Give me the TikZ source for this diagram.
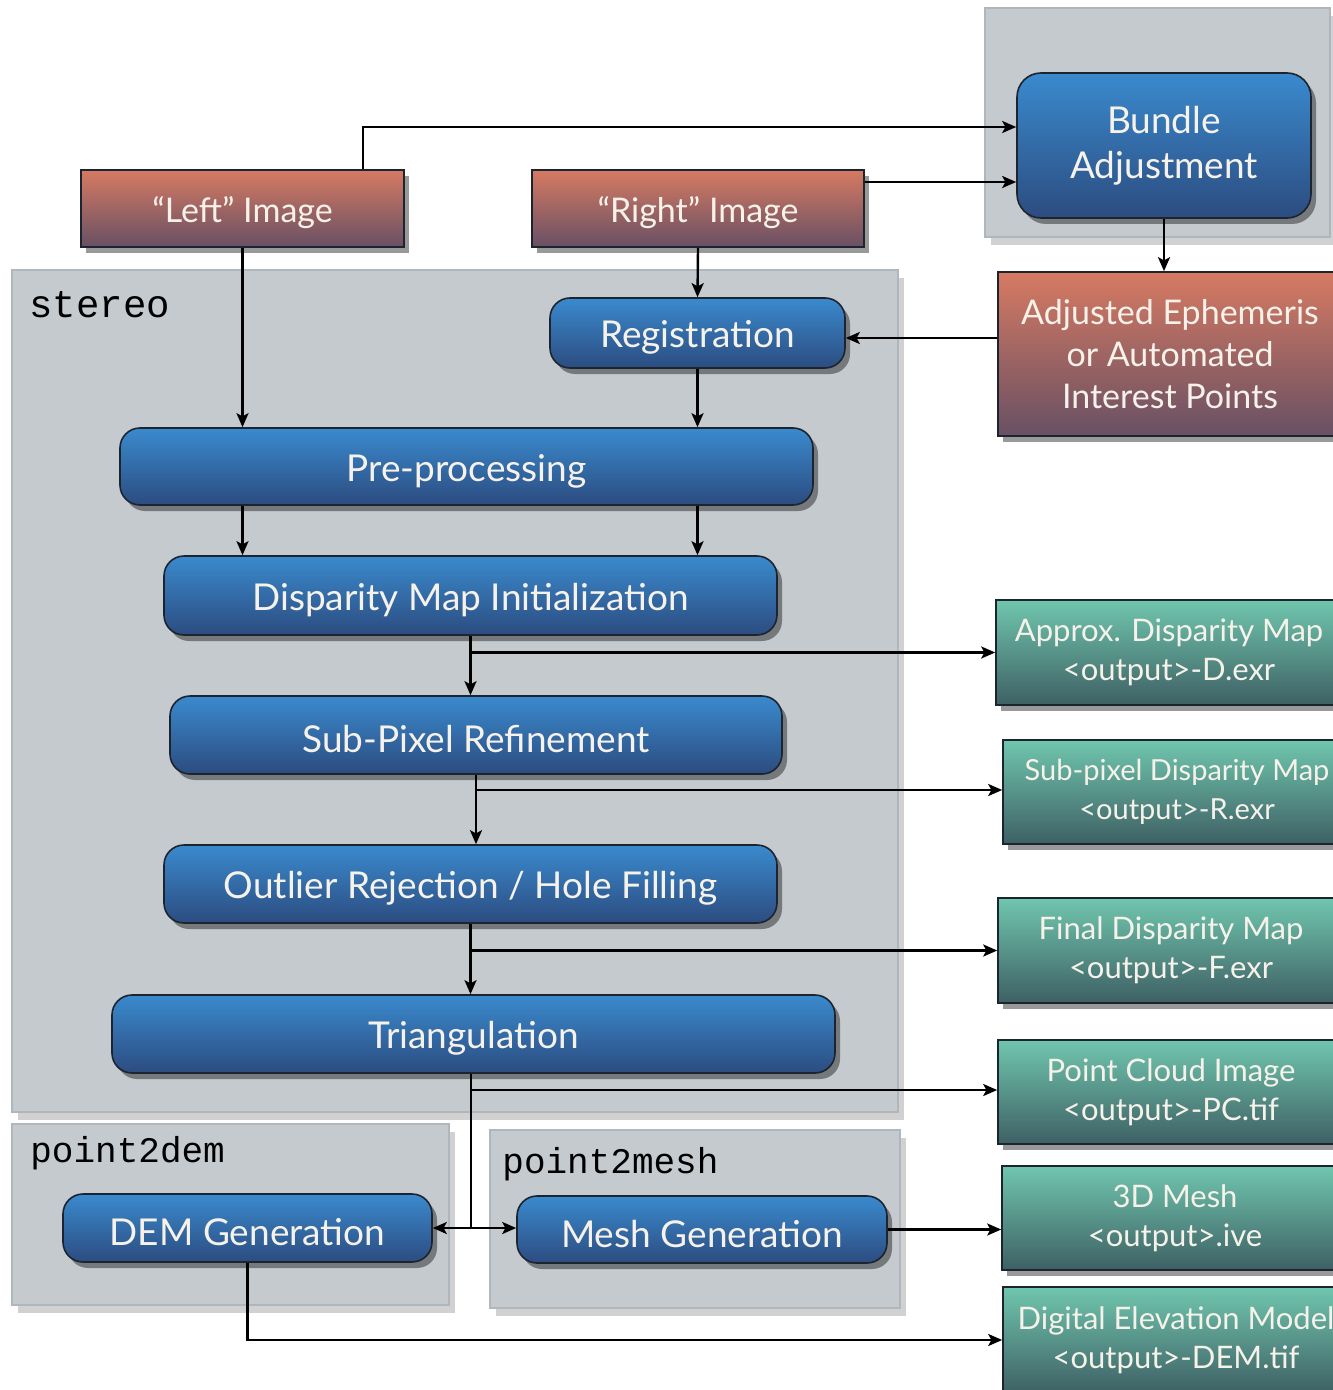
\documentclass[tikz,border=0pt]{standalone}
\usepackage{fontspec}
\setmainfont{Lato}
\setmonofont{Liberation Mono}
\usetikzlibrary{shadows,arrows.meta,calc}

\definecolor{redtop}{RGB}{214,122,98}
\definecolor{redbot}{RGB}{104,80,100}
\definecolor{bluetop}{RGB}{58,138,206}
\definecolor{bluebot}{RGB}{44,76,128}
\definecolor{greentop}{RGB}{112,198,174}
\definecolor{greenbot}{RGB}{62,96,100}
\definecolor{grpfill}{RGB}{196,202,206}
\definecolor{grpline}{RGB}{176,183,188}
\definecolor{edgec}{RGB}{28,36,48}
\definecolor{txtc}{RGB}{246,242,234}

\tikzset{
 boxbase/.style={draw=edgec, line width=0.8pt, text=txtc, align=center, inner sep=2pt,
   execute at begin node={\rule{0pt}{0.98em}},
   drop shadow={shadow xshift=2.5pt, shadow yshift=-3pt, opacity=0.4, fill=black}},
 redbox/.style={boxbase, top color=redtop, bottom color=redbot, font=\fontsize{17}{21}\selectfont},
 bluebox/.style={boxbase, rounded corners=10pt, top color=bluetop, bottom color=bluebot, font=\fontsize{18.5}{22.5}\selectfont},
 greenbox/.style={boxbase, top color=greentop, bottom color=greenbot, font=\fontsize{15.5}{19.5}\selectfont},
 grp/.style={fill=grpfill, draw=grpline, line width=1.2pt, inner sep=0pt,
   drop shadow={shadow xshift=3pt, shadow yshift=-4pt, opacity=0.18, fill=black}},
 grplabel/.style={anchor=base west, inner sep=0pt, font=\ttfamily\fontsize{18}{18}\selectfont, text=black},
 conn/.style={line width=1.2pt, black},
 arr/.style={conn, -{Stealth[length=7pt,width=6pt,inset=1.6pt]}},
 arrboth/.style={conn, {Stealth[length=7pt,width=6pt,inset=1.6pt]}-{Stealth[length=7pt,width=6pt,inset=1.6pt]}},
}

\begin{document}
\begin{tikzpicture}[x=0.5pt,y=-0.5pt]
\useasboundingbox (0,0) rectangle (1332,1390);

% groups
\node[grp, minimum width=172.5pt, minimum height=114.5pt] (gba) at (1157.5,122.5) {};
\node[grp, minimum width=443pt, minimum height=421pt] (gst) at (455,691) {};
\node[grp, minimum width=218.5pt, minimum height=90.5pt] (gdem) at (230.5,1214.5) {};
\node[grp, minimum width=205pt, minimum height=89pt] (gmesh) at (695,1219) {};
\node[grplabel, font=\ttfamily\fontsize{19.5}{19.5}\selectfont] (lst) at (29,318) {stereo};
\node[grplabel] (ldem) at (30,1162) {point2dem};
\node[grplabel] (lmesh) at (502,1173) {point2mesh};

% inputs
\node[redbox, minimum width=161.5pt, minimum height=38.5pt] (left) at (242.5,208.5) {“Left” Image};
\node[redbox, minimum width=166pt, minimum height=38.5pt] (right) at (698,208.5) {“Right” Image};
\node[bluebox, rounded corners=12pt, minimum width=147pt, minimum height=72.5pt] (bundle) at (1164,145.5) {Bundle\\Adjustment};
\node[redbox, minimum width=172pt, minimum height=82pt] (adj) at (1170,354) {Adjusted Ephemeris\\or Automated\\Interest Points};

% stereo
\node[bluebox, minimum width=147.5pt, minimum height=35pt] (reg) at (697.5,333) {Registration};
\node[bluebox, minimum width=346.5pt, minimum height=38.5pt] (pre) at (466.5,466.5) {Pre-processing};
\node[bluebox, minimum width=306.5pt, minimum height=39.5pt] (disp) at (470.5,595.5) {Disparity Map Initialization};
\node[bluebox, minimum width=306pt, minimum height=39pt] (sub) at (476,735) {Sub-Pixel Refinement};
\node[bluebox, minimum width=306.5pt, minimum height=39pt] (out) at (470.5,884) {Outlier Rejection / Hole Filling};
\node[bluebox, minimum width=361.5pt, minimum height=39pt] (tri) at (473.5,1034) {Triangulation};
\node[bluebox, minimum width=184.5pt, minimum height=34pt] (dem) at (247.5,1228) {DEM Generation};
\node[bluebox, minimum width=185pt, minimum height=33.5pt] (mesh) at (702,1229.5) {Mesh Generation};

% outputs
\node[greenbox, minimum width=173pt, minimum height=52.5pt] (approx) at (1169,652.5) {Approx. Disparity Map\\<output>-D.exr};
\node[greenbox, minimum width=174pt, minimum height=52pt, font=\fontsize{14.5}{19.5}\selectfont] (subm) at (1177,792) {Sub-pixel Disparity Map\\<output>-R.exr};
\node[greenbox, minimum width=173pt, minimum height=52.5pt] (fin) at (1171,950.5) {Final Disparity Map\\<output>-F.exr};
\node[greenbox, minimum width=173pt, minimum height=52pt] (pc) at (1171,1092) {Point Cloud Image\\<output>-PC.tif};
\node[greenbox, minimum width=173pt, minimum height=52pt] (m3d) at (1175,1218) {3D Mesh\\<output>.ive};
\node[greenbox, minimum width=173pt, minimum height=53pt] (demtif) at (1176,1340) {Digital Elevation Model\\<output>-DEM.tif};

% connectors
\coordinate (trunk) at ([xshift=-1.25pt]tri.south);
\draw[arr] ([xshift=60.25pt]left.north) |- ([yshift=9.25pt]bundle.west);
\draw[arr] ([yshift=13.25pt]right.east) -- ([yshift=13.25pt]right.east -| bundle.west);
\draw[arr] (bundle.south) -- (bundle.south |- adj.north);
\draw[arr] ([yshift=-2.5pt]reg.east -| adj.west) -- ([yshift=-2.5pt]reg.east);
\draw[arr] (left.south) -- (left.south |- pre.north);
\draw[arr] (right.south) -- (reg.north);
\draw[arr] (reg.south) -- (reg.south |- pre.north);
\draw[arr] (pre.south -| left.south) -- (disp.north -| left.south);
\draw[arr] (pre.south -| reg.south) -- (disp.north -| reg.south);
\draw[arr] (disp.south) -- (disp.south |- sub.north);
\draw[arr] (approx.west -| disp.south) -- (approx.west);
\draw[arr] (sub.south) -- (sub.south |- out.north);
\draw[arr] ([yshift=1pt]subm.west -| sub.south) -- ([yshift=1pt]subm.west);
\draw[arr] (out.south) -- (out.south |- tri.north);
\draw[arr] (fin.west -| out.south) -- (fin.west);
\draw[conn] (trunk) -- (trunk |- dem.east);
\draw[arr] ([yshift=1pt]pc.west -| trunk) -- ([yshift=1pt]pc.west);
\draw[arrboth] (dem.east) -- (dem.east -| mesh.west);
\draw[arr] (mesh.east) -- (mesh.east -| m3d.west);
\draw[arr] (dem.south) -- (dem.south |- demtif.west) -- (demtif.west);
\end{tikzpicture}
\end{document}
